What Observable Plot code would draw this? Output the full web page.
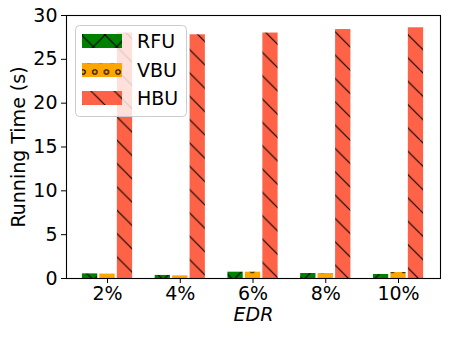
<!DOCTYPE html>
<html><head><meta charset="utf-8">
<script src="https://cdn.jsdelivr.net/npm/d3@7"></script>
<script src="https://cdn.jsdelivr.net/npm/@observablehq/plot@0.6"></script>
<style>
body{margin:0;background:#fff;}
#wrap{position:relative;width:450px;height:338px;font-family:"DejaVu Sans",sans-serif;}
#wrap > svg.plot{position:absolute;left:0;top:0;}
#legend{position:absolute;left:0;top:0;pointer-events:none;}
</style></head><body>
<svg width="0" height="0" style="position:absolute">
<defs>
<pattern id="hRFU" patternUnits="userSpaceOnUse" width="23.333" height="23.333" x="0" y="0">
 <rect width="23.333" height="23.333" fill="green"/>
 <path d="M-23.333,0L0,23.333M0,0L23.333,23.333M23.333,0L46.667,23.333M-23.333,23.333L0,0M0,23.333L23.333,0M23.333,23.333L46.667,0" stroke="black" stroke-width="1.1" fill="none"/>
</pattern>
<pattern id="hVBU" patternUnits="userSpaceOnUse" width="11.667" height="23.333" x="7.3" y="270.3">
 <rect width="11.667" height="23.333" fill="orange"/>
 <g fill="none" stroke="black" stroke-width="1.1">
  <circle cx="0" cy="0" r="2.2"/><circle cx="11.667" cy="0" r="2.2"/>
  <circle cx="0" cy="23.333" r="2.2"/><circle cx="11.667" cy="23.333" r="2.2"/>
  <circle cx="5.833" cy="11.667" r="2.2"/>
 </g>
</pattern>
<pattern id="hHBU" patternUnits="userSpaceOnUse" width="23.333" height="23.333" x="0" y="0">
 <rect width="23.333" height="23.333" fill="tomato"/>
 <path d="M-23.333,0L0,23.333M0,0L23.333,23.333M23.333,0L46.667,23.333" stroke="black" stroke-width="1.1" fill="none"/>
</pattern>
</defs>
</svg>
<div id="wrap"></div>
<script>
const edrLabels = ["2%", "4%", "6%", "8%", "10%"];
const seriesNames = ["RFU", "VBU", "HBU"];
const rfuValues = [0.53, 0.35, 0.72, 0.57, 0.46];
const vbuValues = [0.50, 0.30, 0.72, 0.57, 0.68];
const hbuValues = [28.0, 27.8, 28.0, 28.4, 28.6];
const yTicks = [0, 5, 10, 15, 20, 25, 30];

const seriesValues = {RFU: rfuValues, VBU: vbuValues, HBU: hbuValues};
const offsets = {RFU: -0.24, VBU: 0, HBU: 0.24};
const barW = 0.21;
const fills = {RFU: "url(#hRFU)", VBU: "url(#hVBU)", HBU: "url(#hHBU)"};

function rowsFor(s) {
  return edrLabels.map((lab, i) => ({edr: lab, i, series: s, value: seriesValues[s][i]}));
}

const barMarks = seriesNames.map(s => Plot.rect(rowsFor(s), {
  x1: d => d.i + offsets[s] - barW / 2,
  x2: d => d.i + offsets[s] + barW / 2,
  y1: 0,
  y2: "value",
  fill: fills[s]
}));

const chart = Plot.plot({
  width: 450, height: 338,
  marginLeft: 66, marginRight: 10, marginTop: 15, marginBottom: 60,
  style: {fontFamily: "DejaVu Sans, sans-serif", fontSize: "19px", color: "black", background: "white", overflow: "visible"},
  x: {domain: [-0.564, 4.577]},
  y: {domain: [0, 30]},
  marks: [
    ...barMarks,
    Plot.frame({stroke: "black", strokeWidth: 1.1}),
    Plot.axisX({ticks: edrLabels.map((_, i) => i), tickFormat: i => edrLabels[i], tickSize: 5, tickPadding: 3,
      label: "EDR", labelAnchor: "center", labelOffset: 42, labelArrow: "none"}),
    Plot.axisY({ticks: yTicks, tickSize: 5, tickPadding: 4,
      label: "Running Time (s)", labelAnchor: "center", labelOffset: 55, labelArrow: "none"})
  ]
});
chart.classList.add("plot");
document.getElementById("wrap").appendChild(chart);
d3.select(chart).selectAll('[aria-label="x-axis label"] text').attr("font-style", "italic");

// legend overlay
const lg = d3.select("#wrap").append("svg").attr("id", "legend").attr("width", 450).attr("height", 338);
lg.append("rect").attr("x", 75.5).attr("y", 25.5).attr("width", 111).attr("height", 91)
  .attr("rx", 4).attr("fill", "white").attr("fill-opacity", 0.8).attr("stroke", "#cccccc").attr("stroke-width", 1);
const swY = [34, 63, 91];
seriesNames.forEach((s, k) => {
  lg.append("rect").attr("x", 82).attr("y", swY[k]).attr("width", 40).attr("height", 14).attr("fill", fills[s]);
  lg.append("text").attr("x", 137).attr("y", swY[k] + 14).attr("font-family", "DejaVu Sans, sans-serif")
    .attr("font-size", 19).attr("fill", "black").text(s);
});
</script>
</body></html>
